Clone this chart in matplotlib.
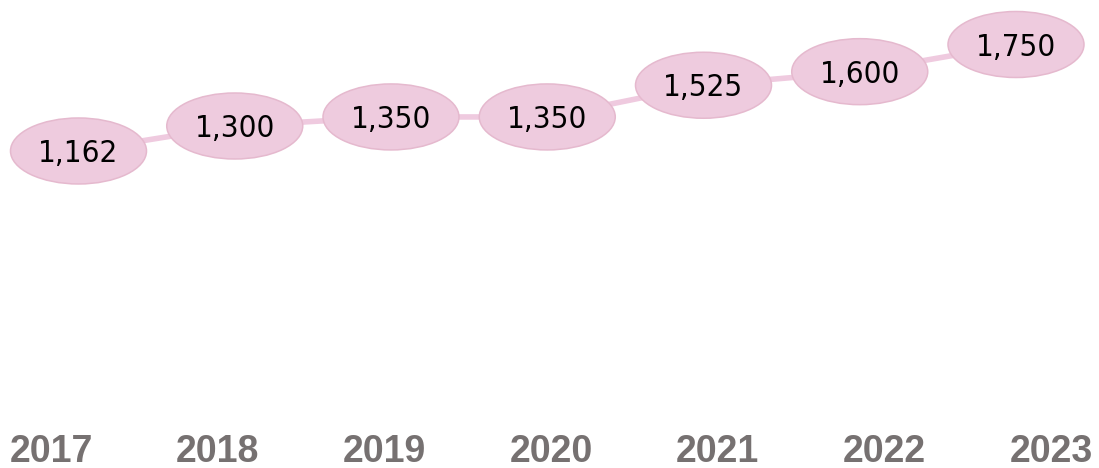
import matplotlib
matplotlib.use("Agg")
import matplotlib.pyplot as plt
from matplotlib.patches import Ellipse

years = ["2017", "2018", "2019", "2020", "2021", "2022", "2023"]
values = [1162, 1300, 1350, 1350, 1525, 1600, 1750]

W, H, DPI = 1099, 468, 100
fig = plt.figure(figsize=(W / DPI, H / DPI), dpi=DPI)
ax = fig.add_axes([0, 0, 1, 1])
ax.set_axis_off()

# scale: one category step ~156 px, one unit of value ~0.181 px
step_px = 156.25
unit_px = 0.1811
ax.set_xlim(-78.5 / step_px, -78.5 / step_px + W / step_px)
ax.set_ylim(1750 - (H - 44.5) / unit_px, 1750 + 44.5 / unit_px)

xs = list(range(len(values)))
line_color = "#EFCADF"
fill_color = "#EECBDE"
edge_color = "#E5B9CE"

ax.plot(xs, values, color=line_color, lw=4.0, solid_capstyle="butt", zorder=1)

ell_w = 136 / step_px
ell_h = 66 / unit_px
for x, v in zip(xs, values):
    ax.add_patch(Ellipse((x, v), ell_w, ell_h, facecolor=fill_color,
                         edgecolor=edge_color, lw=1.1, zorder=2))
    ax.annotate(f"{v:,}", (x, v), xytext=(0, -8.0), textcoords="offset points",
                ha="center", va="baseline", fontsize=22.5,
                family="DejaVu Sans", fontstretch="condensed",
                color="black", zorder=3)

# year labels along the bottom
lab_step = 166.7
for i, yr in enumerate(years):
    fig.text((51 + lab_step * i) / W, (H - 461.5) / H, yr,
             ha="center", va="baseline", fontsize=27, fontweight="bold",
             family="Liberation Sans", color="#767171")

fig.savefig("out.png", dpi=DPI)
